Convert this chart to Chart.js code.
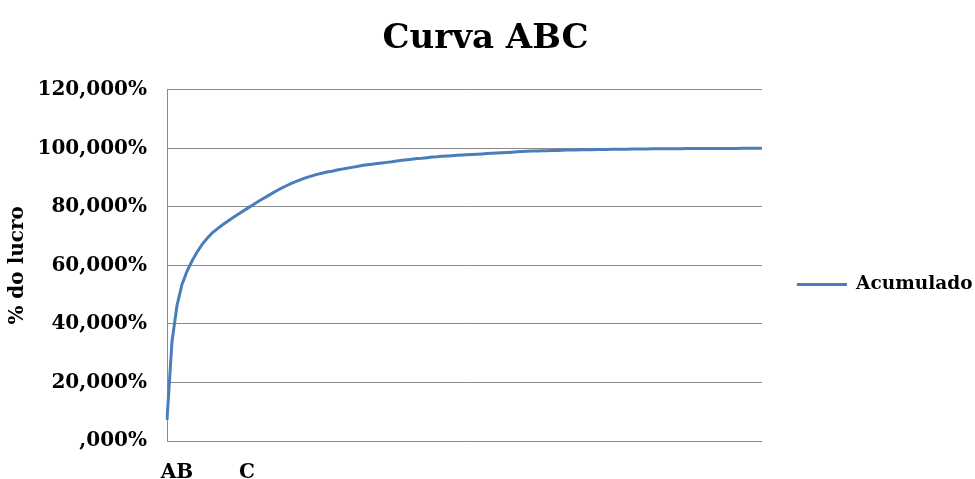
<!DOCTYPE html>
<html>
<head>
<meta charset="utf-8">
<script src="https://cdn.jsdelivr.net/npm/chart.js@4"></script>
<style>
  html, body { margin: 0; padding: 0; background: #fff; }
  #wrap { width: 975px; height: 479px; }
</style>
</head>
<body>
<div id="wrap"><canvas id="c"></canvas></div>
<script>
// Cumulative profit share (%) per item
const acumulado = [
  7.2, 34.0, 46.3, 53.5, 58.0, 61.5, 64.5, 67.1, 69.2, 71.0,
  72.4, 73.7, 74.9, 76.1, 77.2, 78.3, 79.4, 80.5, 81.6, 82.6,
  83.6, 84.6, 85.6, 86.5, 87.3, 88.1, 88.8, 89.5, 90.1, 90.6,
  91.1, 91.5, 91.9, 92.2, 92.6, 92.9, 93.2, 93.5, 93.8, 94.1,
  94.4, 94.6, 94.8, 95.0, 95.2, 95.4, 95.7, 95.9, 96.1, 96.3,
  96.5, 96.6, 96.8, 97.0, 97.1, 97.3, 97.4, 97.5, 97.6, 97.7,
  97.8, 97.9, 98.0, 98.1, 98.2, 98.3, 98.4, 98.5, 98.6, 98.7,
  98.8, 98.9, 99.0, 99.05, 99.1, 99.15, 99.2, 99.25, 99.3, 99.35,
  99.4, 99.42, 99.45, 99.5, 99.52, 99.55, 99.58, 99.6, 99.62, 99.65,
  99.67, 99.7, 99.72, 99.74, 99.76, 99.78, 99.8, 99.82, 99.84, 99.85,
  99.87, 99.88, 99.89, 99.9, 99.91, 99.92, 99.93, 99.94, 99.95, 99.96,
  99.965, 99.97, 99.975, 99.98, 99.985, 99.99, 99.993, 99.996, 99.998, 100
];
// Class labels on the category axis and the item where each appears
const classLabels = ['AB', 'C'];
const classIndex = [2, 16];
// Y axis ticks
const yTicks = [0, 20, 40, 60, 80, 100, 120];

const categories = acumulado.map(() => '');
classLabels.forEach((t, k) => { categories[classIndex[k]] = t; });

const FONT = "'DejaVu Serif', serif";
const GRID = '#8a8a8a';
const BLUE = '#4a7ebb';

function fmtPct(v) {
  const intPart = Math.floor(v);
  return (intPart === 0 ? '' : String(intPart)) + ',000%';
}

new Chart(document.getElementById('c'), {
  type: 'line',
  data: {
    labels: categories,
    datasets: [{
      label: 'Acumulado',
      data: acumulado,
      borderColor: BLUE,
      backgroundColor: BLUE,
      borderWidth: 3,
      pointRadius: 0,
      tension: 0,
      fill: false
    }]
  },
  options: {
    responsive: true,
    maintainAspectRatio: false,
    animation: false,
    layout: { padding: { top: 10, right: -7.5, bottom: 0, left: -11.5 } },
    plugins: {
      title: {
        display: true,
        text: 'Curva ABC',
        color: '#000',
        font: { family: FONT, size: 34, weight: 'bold' },
        padding: { top: 9, bottom: 30 }
      },
      legend: {
        position: 'right',
        title: {
          display: true,
          text: '',
          font: { size: 10, lineHeight: 1 },
          padding: { top: 35, bottom: 35 }
        },
        labels: {
          color: '#000',
          font: { family: FONT, size: 18.5, weight: 'bold' },
          usePointStyle: true,
          pointStyle: 'line',
          pointStyleWidth: 50,
          boxWidth: 50,
          padding: 35
        }
      },
      tooltip: { enabled: false }
    },
    scales: {
      x: {
        type: 'category',
        offset: false,
        afterFit: (scale) => { scale.height = 38; },
        grid: { display: false, drawTicks: false },
        border: { display: true, color: GRID, width: 1 },
        ticks: {
          autoSkip: false,
          maxRotation: 0,
          minRotation: 0,
          color: '#000',
          padding: 20,
          font: { family: FONT, size: 20, weight: 'bold' }
        }
      },
      y: {
        min: 0,
        max: 120,
        afterFit: (scale) => { scale.width = 178.5; },
        afterBuildTicks: (scale) => { scale.ticks = yTicks.map(v => ({ value: v })); },
        grid: { color: GRID, lineWidth: 1, drawTicks: false },
        border: { display: true, color: GRID, width: 1 },
        ticks: {
          color: '#000',
          padding: 20,
          font: { family: FONT, size: 20, weight: 'bold' },
          callback: (v) => fmtPct(v)
        },
        title: {
          display: true,
          text: '% do lucro',
          color: '#000',
          font: { family: FONT, size: 20, weight: 'bold' },
          padding: { top: 17.5, bottom: 0 }
        }
      }
    }
  }
});
</script>
</body>
</html>
